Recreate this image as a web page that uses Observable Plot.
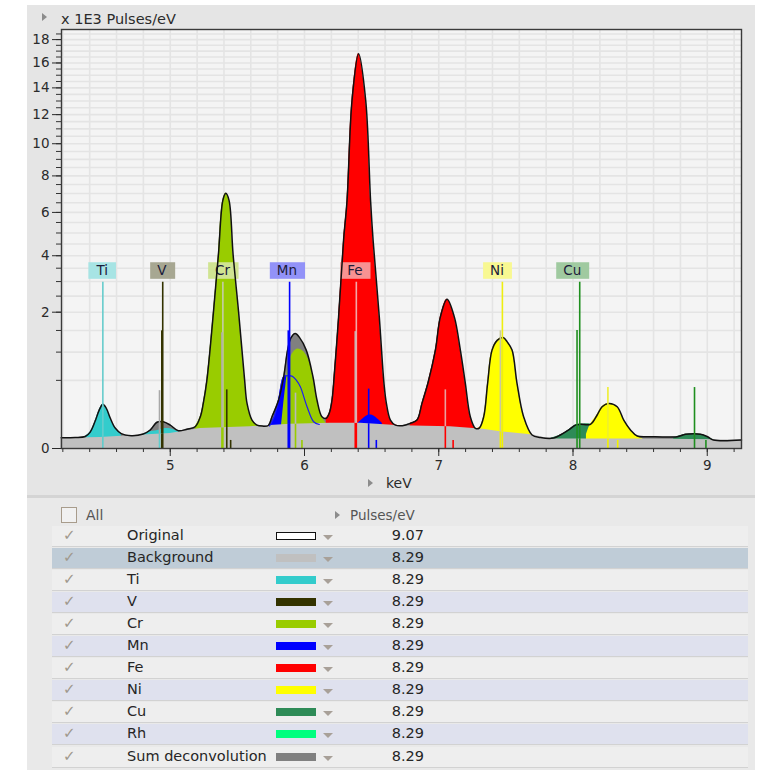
<!DOCTYPE html>
<html><head><meta charset="utf-8">
<script src="https://cdn.jsdelivr.net/npm/d3@7"></script>
<script src="https://cdn.jsdelivr.net/npm/@observablehq/plot@0.6"></script>
<style>
body{margin:0;background:#fff;font-family:"DejaVu Sans",Verdana,sans-serif;}
#root{position:relative;width:762px;height:770px;overflow:hidden;background:#fff}
#panel{position:absolute;left:27px;top:5px;width:728px;height:491px;background:#e5e5e5}
#sep{position:absolute;left:27px;top:495px;width:728px;height:3px;background:#d4d4d4}
#lower{position:absolute;left:27px;top:498px;width:728px;height:272px;background:#e9e9e9}
#chart{position:absolute;left:0;top:0}
.tri{position:absolute;width:0;height:0;border-top:4px solid transparent;border-bottom:4px solid transparent;border-left:5px solid #8c8c8c}
.txt{position:absolute;font-size:14px;color:#2b2b2b;white-space:nowrap;line-height:16px}
.row{position:absolute;left:52px;width:696px;height:21px;border-bottom:1px solid #d2d2d2;box-sizing:border-box}
.row .chk{position:absolute;left:11px;top:0px;font-size:15px;color:#a0988c}
.row .nm{position:absolute;left:75px;top:1px;font-size:14.5px;color:#262626}
.row .sw{position:absolute;left:224px;top:6px;width:40px;height:8px;box-sizing:border-box}
.row .dd{position:absolute;left:271px;top:9px;width:0;height:0;border-left:5px solid transparent;border-right:5px solid transparent;border-top:5px solid #a8a098}
.row .val{position:absolute;right:324px;top:1px;font-size:14.5px;color:#262626}
</style></head>
<body><div id="root">
<div id="panel"></div><div id="sep"></div><div id="lower"></div>
<div id="chart"></div>
<div class="tri" style="left:42px;top:13px"></div>
<div class="txt" style="left:61px;top:11px;font-size:14.5px">x 1E3 Pulses/eV</div>
<div class="tri" style="left:368px;top:479px"></div>
<div class="txt" style="left:386px;top:475px">keV</div>
<div style="position:absolute;left:61px;top:507px;width:14px;height:14px;border:1px solid #a89c8c;background:#f1f1f1"></div>
<div class="txt" style="left:86px;top:507px;color:#555">All</div>
<div class="tri" style="left:335px;top:511px"></div>
<div class="txt" style="left:350px;top:507px;color:#555;font-size:13.5px">Pulses/eV</div>
<div id="table"></div>
</div>
<script>
// ---------- data (keV, x1E3 pulses/eV) ----------
const original = [
[4.188,0.0125],[4.292,0.013],[4.367,0.0155],[4.404,0.029],[4.441,0.081],[4.471,0.159],[4.498,0.210],[4.523,0.176],[4.553,0.100],[4.590,0.045],[4.635,0.024],[4.709,0.0176],[4.799,0.0226],[4.851,0.037],[4.901,0.074],[4.948,0.077],[5.000,0.059],[5.060,0.034],[5.124,0.040],[5.186,0.051],[5.224,0.109],[5.246,0.219],[5.273,0.504],[5.322,2.01],[5.359,4.06],[5.392,6.63],[5.414,7.01],[5.438,6.63],[5.468,4.06],[5.509,2.01],[5.554,0.504],[5.572,0.219],[5.609,0.087],[5.646,0.059],[5.686,0.054],[5.730,0.057],[5.758,0.109],[5.807,0.253],[5.845,0.554],[5.874,1.042],[5.898,1.311],[5.931,1.425],[5.961,1.335],[6.013,1.042],[6.063,0.554],[6.093,0.253],[6.130,0.109],[6.162,0.098],[6.185,0.135],[6.205,0.253],[6.217,0.457],[6.254,1.865],[6.291,4.67],[6.317,6.63],[6.354,13.04],[6.403,16.77],[6.456,13.04],[6.492,6.63],[6.511,4.67],[6.557,1.865],[6.592,0.457],[6.610,0.219],[6.640,0.087],[6.677,0.059],[6.729,0.056],[6.788,0.068],[6.838,0.087],[6.875,0.219],[6.922,0.48],[6.975,1.042],[7.012,1.865],[7.062,2.40],[7.116,1.865],[7.161,1.042],[7.198,0.457],[7.235,0.109],[7.273,0.044],[7.302,0.045],[7.335,0.109],[7.364,0.457],[7.397,1.042],[7.437,1.264],[7.479,1.328],[7.511,1.218],[7.546,1.042],[7.583,0.457],[7.632,0.109],[7.695,0.0196],[7.757,0.013],[7.856,0.0118],[7.906,0.0196],[7.968,0.037],[8.018,0.059],[8.055,0.063],[8.130,0.063],[8.180,0.121],[8.217,0.188],[8.266,0.219],[8.329,0.188],[8.378,0.087],[8.428,0.037],[8.478,0.0168],[8.577,0.015],[8.776,0.015],[8.838,0.0217],[8.950,0.0217],[9.002,0.015],[9.046,0.0078],[9.255,0.0078]
];
const background = [
[4.188,0.0112],[4.478,0.013],[4.799,0.0196],[5.000,0.024],[5.224,0.043],[5.596,0.051],[5.894,0.063],[6.192,0.068],[6.416,0.068],[6.714,0.056],[7.086,0.051],[7.332,0.040],[7.459,0.030],[7.705,0.0196],[7.832,0.0097],[8.502,0.0097],[9.255,0.0078]
];
const tiKb  = [[4.76,0.012],[4.80,0.022],[4.85,0.030],[4.90,0.034],[4.95,0.042],[5.00,0.042],[5.06,0.030],[5.12,0.020]];
const mnKa  = [[5.74,0.055],[5.775,0.11],[5.807,0.253],[5.845,0.554],[5.87,0.57],[5.907,0.564],[5.94,0.50],[5.969,0.41],[6.019,0.188],[6.068,0.077],[6.11,0.062]];
const mnKb  = [[6.40,0.068],[6.43,0.09],[6.46,0.112],[6.49,0.121],[6.52,0.112],[6.55,0.09],[6.58,0.068]];
const crKb  = [[5.83,0.06],[5.86,0.41],[5.894,0.88],[5.944,1.06],[5.985,1.03],[6.019,0.91],[6.05,0.70],[6.063,0.554],[6.093,0.253],[6.13,0.109],[6.16,0.07]];
const cuKa  = [[7.84,0.0118],[7.906,0.0196],[7.968,0.037],[8.018,0.059],[8.055,0.063],[8.13,0.063],[8.16,0.045],[8.19,0.025],[8.22,0.012]];
const niKb  = [[8.10,0.02],[8.13,0.063],[8.18,0.121],[8.217,0.188],[8.266,0.219],[8.329,0.188],[8.378,0.087],[8.428,0.037],[8.478,0.0168],[8.52,0.01]];
const cuKb  = [[8.75,0.012],[8.80,0.018],[8.838,0.0217],[8.95,0.0217],[9.002,0.015],[9.05,0.008]];
// element regions of the measured spectrum [element, from keV, to keV]
const peakRanges = [["Ti",4.36,4.68],["Ni",7.26,7.76],["Fe",6.15,6.73],["Fe",6.76,7.31],["Cr",5.18,5.71]];
// line markers
const markerElement = ["Ti","Ti","V","V","V","V","Cr","Cr","Cr","Cr","Mn","Mn","Mn","Mn","Fe","Fe","Fe","Fe","Ni","Ni","Ni","Ni","Cu","Cu","Cu","Cu"];
const markerKind    = ["label","b","label","a2","b","x","label","a2","b","x","label","a2","b","x","label","a2","b","x","label","a2","b","x","label","a2","b","x"];
const markerKeV     = [4.498,4.920,4.944,4.937,5.421,5.450,5.392,5.385,5.933,5.981,5.889,5.882,6.478,6.535,6.386,6.378,7.049,7.107,7.474,7.459,8.260,8.333,8.050,8.030,8.905,8.990];
const markerTop     = [2.976,0.36,2.976,1.49,0.37,0.007,2.976,1.44,0.33,0.007,2.976,1.49,0.38,0.007,2.976,1.47,0.37,0.007,2.976,1.49,0.40,0.007,2.976,1.50,0.40,0.007];
const labelNames = ["Ti","V","Cr","Mn","Fe","Ni","Cu"];
const labelKeV   = [4.493,4.937,5.390,5.869,6.375,7.434,7.994];
const labelLevel = 3.41;
// axes
const xMajor = [5,6,7,8,9];
const yMajor = [0,2,4,6,8,10,12,14,16,18];
// legend table
const legendNames  = ["Original","Background","Ti","V","Cr","Mn","Fe","Ni","Cu","Rh","Sum deconvolution"];
const legendColors = ["#ffffff","#c0c0c0","#33cccc","#333300","#99cc00","#0000ff","#ff0000","#ffff00","#2e8b57","#00ff7f","#808080"];
const legendValues = ["9.07","8.29","8.29","8.29","8.29","8.29","8.29","8.29","8.29","8.29","8.29"];

// ---------- styles ----------
const elementFill = {Ti:"#33cccc",V:"#333300",Cr:"#99cc00",Mn:"#0000ff",Fe:"#ff0000",Ni:"#ffff00",Cu:"#2e8b57"};
const labelBase   = {Ti:"#33cccc",V:"#333300",Cr:"#99cc00",Mn:"#0000ff",Fe:"#ff0000",Ni:"#ffff00",Cu:"#228b22"};
const markerBase  = {Ti:"#5fcccc",V:"#333300",Cr:"#99cc00",Mn:"#0000ff",Fe:"#ff0000",Ni:"#f2f200",Cu:"#1f8f1f"};
const markerUpper = {
  Ti:{label:"#66cccc",b:"#a8a8a8"}, V:{}, Mn:{}, Cu:{},
  Cr:{label:"#c4cca8",a2:"#b0b0a4",b:"#b8b8b8"},
  Fe:{label:"#f2a8a8",a2:"#c8b4b4",b:"#eaa0a0"},
  Ni:{label:"#eeee10",a2:"#c8c8a0",b:"#eeee30"}
};
const curve = "catmull-rom";
const toObj = a => a.map(([k,v]) => ({k,v}));
const orig = toObj(original);
const bg = toObj(background);
function bgAt(k){
  for(let i=1;i<background.length;i++){
    const [k0,v0]=background[i-1],[k1,v1]=background[i];
    if(k<=k1){const t=(k-k0)/(k1-k0);return v0+t*(v1-v0);}
  }
  return background[background.length-1][1];
}
const markers = markerKeV.map((k,i)=>({k,top:markerTop[i],el:markerElement[i],kind:markerKind[i]}));
const upperColor = d => (markerUpper[d.el][d.kind]) || markerBase[d.el];
const labels = labelNames.map((n,i)=>({n,k:labelKeV[i]}));
const xMinor = d3.range(21,47).map(i=>i/5);
const yMinor = d3.range(1,38).map(i=>i/2);

const fillMarks = [];
fillMarks.push(Plot.areaY(orig,{x:"k",y:"v",fill:"#808080",curve}));           // sum deconvolution
const rangeFill = el => peakRanges.filter(r=>r[0]===el).map(r=>
  Plot.areaY(orig.filter(d=>d.k>=r[1]&&d.k<=r[2]),{x:"k",y:"v",fill:elementFill[el],curve}));
fillMarks.push(...rangeFill("Ti"));
fillMarks.push(Plot.areaY(toObj(tiKb),{x:"k",y:"v",fill:elementFill.Ti,curve}));
fillMarks.push(...rangeFill("Ni"));
fillMarks.push(Plot.areaY(toObj(cuKa),{x:"k",y:"v",fill:elementFill.Cu,curve}));
fillMarks.push(Plot.areaY(toObj(cuKb),{x:"k",y:"v",fill:elementFill.Cu,curve}));
fillMarks.push(Plot.areaY(toObj(niKb),{x:"k",y:"v",fill:elementFill.Ni,curve}));
fillMarks.push(...rangeFill("Fe"));
fillMarks.push(Plot.areaY(toObj(mnKa),{x:"k",y:"v",fill:elementFill.Mn,curve}));
fillMarks.push(Plot.areaY(toObj(mnKb),{x:"k",y:"v",fill:elementFill.Mn,curve}));
fillMarks.push(...rangeFill("Cr"));
fillMarks.push(Plot.areaY(toObj(crKb),{x:"k",y:"v",fill:elementFill.Cr,curve}));

const chart = Plot.plot({
  width:762, height:497,
  marginLeft:61, marginRight:21, marginTop:29, marginBottom:49,
  style:{background:"transparent",fontFamily:"'DejaVu Sans',Verdana,sans-serif",fontSize:"13.5px",color:"#2b2b2b",overflow:"visible"},
  x:{domain:[4.19,9.255],axis:null},
  y:{type:"sqrt",domain:[0,18.9],axis:null},
  marks:[
    Plot.frame({fill:"#f4f4f4",stroke:null}),
    Plot.ruleX(xMinor,{stroke:"#e4e4e4",strokeWidth:1.6}),
    Plot.ruleY(yMinor,{stroke:"#e4e4e4",strokeWidth:1.6}),
    ...fillMarks,
    Plot.areaY(bg,{x:"k",y:"v",fill:"#c0c0c0"}),
    Plot.lineY(toObj(mnKa),{x:"k",y:"v",stroke:"#1e1ef0",strokeWidth:1.2,curve}),
    Plot.text(labels,{x:"k",y:()=>labelLevel,text:"n",fill:"#1c1c3a",fontSize:13.5}),
    Plot.lineY(orig,{x:"k",y:"v",stroke:"#111",strokeWidth:1.5,curve}),
    Plot.ruleX(markers,{x:"k",y1:0,y2:d=>Math.min(d.top,bgAt(d.k)),stroke:d=>markerBase[d.el],strokeWidth:d=>d.kind==="a2"&&d.el==="Mn"?2.4:1.6}),
    Plot.ruleX(markers.filter(d=>d.top>bgAt(d.k)),{x:"k",y1:d=>bgAt(d.k),y2:"top",stroke:upperColor,strokeWidth:d=>d.kind==="a2"&&d.el==="Mn"?2.4:1.6}),
    Plot.frame({stroke:"#3a3a3a",strokeWidth:1.4,fill:"none"}),
    Plot.axisY(yMinor,{tickSize:5,tickFormat:()=>"",label:null,color:"#333"}),
    Plot.axisY(yMajor,{tickSize:9,tickPadding:3,tickFormat:d=>String(d),label:null,color:"#2b2b2b",fontSize:13.5}),
    Plot.axisX(xMinor,{tickSize:4,tickFormat:()=>"",label:null,color:"#333"}),
    Plot.axisX(xMajor,{tickSize:8,tickPadding:4,tickFormat:d=>String(d),label:null,color:"#2b2b2b",fontSize:13.5})
  ]
});
document.getElementById("chart").appendChild(chart);

// label boxes behind label texts
const ys = chart.scale("y");
const yTop = ys.apply(3.735), yBot = ys.apply(3.10);
const svgRect = chart.getBoundingClientRect();
const texts = chart.querySelectorAll('g[aria-label="text"] text');
texts.forEach((t,i)=>{
  const b = t.getBoundingClientRect();
  const r = document.createElementNS("http://www.w3.org/2000/svg","rect");
  r.setAttribute("x", b.left - svgRect.left - 7.5); r.setAttribute("width", b.width + 15);
  r.setAttribute("y", yTop); r.setAttribute("height", yBot - yTop);
  const el = labels[i].n;
  r.setAttribute("fill", d3.interpolateRgb(labelBase[el], "#f4f4f4")(0.6));
  t.parentNode.insertBefore(r, t);
});

// legend table
const tbl = document.getElementById("table");
legendNames.forEach((n,i)=>{
  const row = document.createElement("div");
  row.className = "row";
  row.style.top = (525.5 + i*22.1) + "px";
  row.style.background = i===1 ? "#bfccd7" : (i%2===1 ? "#dfe1ee" : "#eeeeee");
  const sw = i===0 ? `border:1.5px solid #111;background:#fff` : `background:${legendColors[i]}`;
  row.innerHTML = `<span class="chk">&#10003;</span><span class="nm">${n}</span><span class="sw" style="${sw}"></span><span class="dd"></span><span class="val">${legendValues[i]}</span>`;
  tbl.appendChild(row);
});
</script>
</body></html>
